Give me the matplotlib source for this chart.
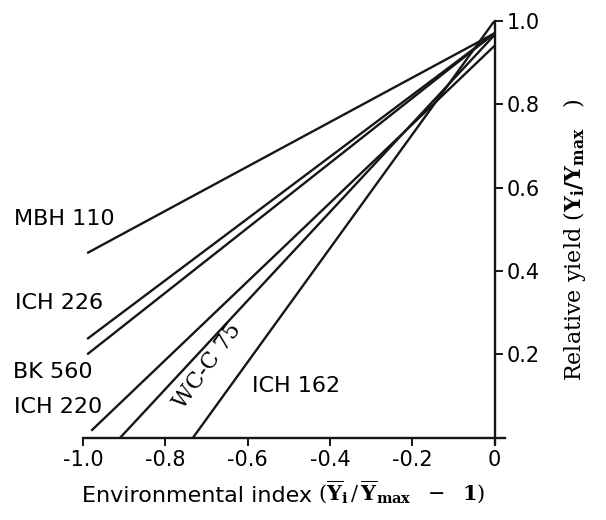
import matplotlib
matplotlib.use("Agg")
import matplotlib.pyplot as plt

plt.rcParams['font.family'] = ['DejaVu Sans']
plt.rcParams['mathtext.fontset'] = 'dejavuserif'

# cultivar regression lines: left end point and value at index 0
cultivares = ["MBH 110", "ICH 226", "BK 560", "ICH 220", "WC-C 75", "ICH 162"]
x_inicio = [-0.99, -0.99, -0.99, -0.98, -0.91, -0.733]
y_inicio = [0.443, 0.237, 0.200, 0.017, 0.0, 0.0]
x_fin = [0.0, 0.0, 0.0, 0.0, 0.0, 0.0]
y_fin = [0.97, 0.97, 0.97, 0.94, 0.966, 1.0]

x_ticks = [-1.0, -0.8, -0.6, -0.4, -0.2, 0.0]
x_tick_labels = ["-1.0", "-0.8", "-0.6", "-0.4", "-0.2", "0"]
y_ticks = [0.2, 0.4, 0.6, 0.8, 1.0]
y_tick_labels = ["0.2", "0.4", "0.6", "0.8", "1.0"]

fig = plt.figure(figsize=(6.06, 5.2), dpi=100)
ax = fig.add_axes([0.137, 0.146, 0.696, 0.814])

for x0, y0, x1, y1 in zip(x_inicio, y_inicio, x_fin, y_fin):
    ax.plot([x0, x1], [y0, y1], color="#161616", lw=1.7, solid_capstyle="butt")

ax.set_xlim(-1.0, 0.025)
ax.set_ylim(-0.015, 1.0)

ax.spines['left'].set_visible(False)
ax.spines['top'].set_visible(False)
ax.spines['right'].set_position(('data', 0))
ax.spines['bottom'].set_position(('data', 0))
for s in ['right', 'bottom']:
    ax.spines[s].set_linewidth(1.7)
    ax.spines[s].set_color("#161616")

ax.yaxis.tick_right()
ax.set_xticks(x_ticks)
ax.set_xticklabels(x_tick_labels)
ax.set_yticks(y_ticks)
ax.set_yticklabels(y_tick_labels)
ax.tick_params(axis='both', direction='out', length=6, width=1.4,
               labelsize=15, pad=3, color="#161616")

# labels of each line (baseline positions, data coords)
pos_etiquetas = {
    "MBH 110": (-1.167, 0.511),
    "ICH 226": (-1.165, 0.309),
    "BK 560": (-1.17, 0.144),
    "ICH 220": (-1.167, 0.060),
    "ICH 162": (-0.59, 0.110),
}
for nombre in cultivares:
    if nombre in pos_etiquetas:
        x, y = pos_etiquetas[nombre]
        ax.text(x, y, nombre, fontsize=16, ha="left", va="baseline", clip_on=False)
ax.text(-0.697, 0.173, "WC-C 75", fontsize=16, family="DejaVu Serif",
        rotation=54, ha="center", va="center", rotation_mode="anchor")

# axis titles
fig.text(82 / 606, 1 - 502 / 520, "Environmental index", fontsize=16,
         ha="left", va="baseline")
fig.text(318 / 606, 1 - 500 / 520,
         r"$(\overline{\mathbf{Y}}_{\mathbf{i}}\,/\,\overline{\mathbf{Y}}_{\mathbf{max}}\ \ -\ \ \mathbf{1})$",
         fontsize=15, ha="left", va="baseline")
fig.text(574 / 606, 1 - 240 / 520,
         r"Relative yield ($\mathbf{Y_i/Y_{max}}$   )",
         fontsize=16, family="DejaVu Serif", rotation=90, ha="center", va="center")

fig.savefig("out.png", dpi=100)
